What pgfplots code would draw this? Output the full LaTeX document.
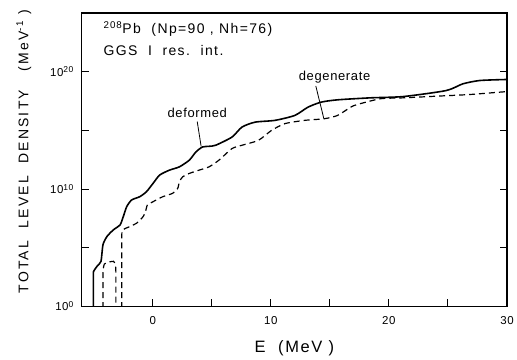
\documentclass[border=0pt]{standalone}
\usepackage{pgfplots}
\pgfplotsset{compat=1.18}
\usepackage{fontspec}
\setmainfont{Liberation Sans}
\newfontfamily\wsf[LetterSpace=10]{Liberation Sans}
\newfontfamily\ysf[LetterSpace=16]{Liberation Sans}
\newfontfamily\msf[LetterSpace=5]{Liberation Sans}
\newcommand{\tl}[1]{{\msf 10\raisebox{0.55ex}{\fontsize{8.5}{9}\selectfont #1}}}
\begin{document}
\begin{tikzpicture}
\begin{axis}[
  scale only axis, width=426pt, height=294pt,
  xmin=-6, xmax=30, ymin=0, ymax=25,
  axis line style={line width=1.3pt},
  xtick={0,10,20,30}, minor xtick={5,15,25},
  xticklabels={0,10,20,30},
  ytick={0,10,20}, minor ytick={5,15},
  yticklabels={\tl{0},\tl{10},\tl{20}},
  tick align=inside, xtick pos=left, ytick pos=both,
  major tick length=7pt, minor tick length=7pt,
  every tick/.style={line width=1pt, black},
  ticklabel style={font=\fontsize{11.5}{13}\selectfont\msf},
  xticklabel style={yshift=-7pt},
  yticklabel style={xshift=-5pt},
  xlabel={E\ \ (MeV\ )}, ylabel={TOTAL\ \ LEVEL\ \ DENSITY\ \ \ (MeV\textsuperscript{-1}\ )},
  xlabel style={font=\fontsize{16.5}{20}\selectfont\wsf, yshift=-9pt},
  ylabel style={font=\fontsize{14}{16}\selectfont\ysf, yshift=12pt, xshift=8pt},
  clip=true,
]
% deformed (solid), values are log10 of density
\addplot[black, line width=1.6pt, smooth, tension=0.4] coordinates {
(-5.02,-1) (-5.02,2.6) (-5.0,2.99) (-4.71,3.42) (-4.38,3.84) (-4.21,5.25) (-3.87,5.96)
(-3.32,6.53) (-2.76,6.95) (-2.49,7.65) (-2.20,8.50) (-1.78,9.07) (-1.09,9.35)
(-0.53,9.77) (0.03,10.48) (0.59,11.19) (1.42,11.61) (2.26,11.89) (3.10,12.46)
(3.66,13.16) (4.21,13.58) (4.77,13.64) (5.33,13.73) (6.72,14.43) (7.56,15.28)
(8.68,15.70) (10.35,15.85) (12.03,16.27) (13.14,16.97) (14.25,17.40) (15.65,17.60)
(18.44,17.77) (21.23,17.88) (24.85,18.39) (26.25,18.96) (27.64,19.24) (29.46,19.32) (30,19.33)
};
% degenerate (dashed), small hump
\addplot[black, line width=1.2pt, dash pattern=on 6pt off 4pt, smooth, tension=0.4] coordinates {
(-4.21,-1) (-4.21,2.8) (-4.1,3.6) (-3.87,3.75) (-3.32,3.84) (-3.2,3.7) (-3.12,3.0) (-3.12,-1)
};
% degenerate (dashed), main
\addplot[black, line width=1.2pt, dash pattern=on 6pt off 4pt, smooth, tension=0.4] coordinates {
(-2.62,-1) (-2.62,5.9) (-2.49,6.53) (-1.92,6.81) (-1.36,7.09) (-0.81,7.65) (-0.6,8.1)
(-0.45,8.64) (0.03,8.92) (0.86,9.35) (1.70,9.64) (2.12,10.06) (2.26,10.62) (2.54,11.04)
(3.10,11.33) (3.93,11.61) (4.77,11.89) (5.61,12.46) (6.72,13.45) (7.56,13.73) (8.95,14.15)
(10.07,15.0) (11.19,15.57) (12.86,15.85) (14.54,15.99) (15.65,16.27) (16.76,16.97)
(17.32,17.20) (19.27,17.69) (21.23,17.77) (24.02,17.91) (26.80,18.05) (29.46,18.26) (30,18.3)
};
\node[anchor=west, font=\fontsize{14}{16}\selectfont\wsf] at (axis cs:-4.45,23.6) {\textsuperscript{208}Pb\ \ (Np=90\ ,\ Nh=76)};
\node[anchor=west, font=\fontsize{14}{16}\selectfont\wsf] at (axis cs:-4.45,21.8) {GGS\ \ I\ \ res.\ \ int.};
\node[font=\fontsize{13}{15}\selectfont\msf] at (axis cs:3.77,16.5) {deformed};
\draw[line width=0.8pt] (axis cs:3.77,15.75) -- (axis cs:4.10,13.64);
\node[font=\fontsize{13}{15}\selectfont\msf] at (axis cs:15.4,19.5) {degenerate};
\draw[line width=0.8pt] (axis cs:13.81,18.78) -- (axis cs:14.48,16.05);
\end{axis}
\path ([shift={(-82pt,-47pt)}]current axis.south west) rectangle ([shift={(9pt,13pt)}]current axis.north east);
\end{tikzpicture}
\end{document}
